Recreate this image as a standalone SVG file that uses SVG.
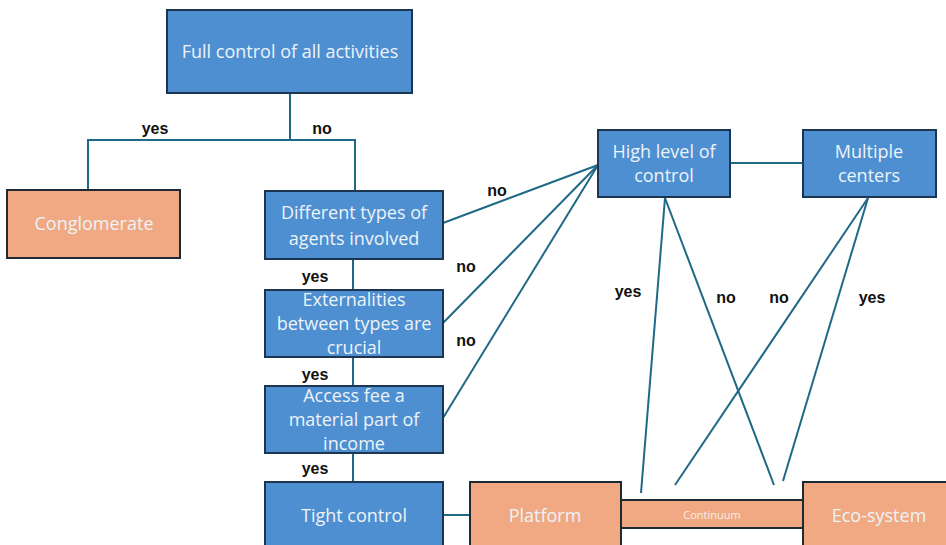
<svg xmlns="http://www.w3.org/2000/svg" width="946" height="545" viewBox="0 0 946 545">
  <style>
    .blue { fill: #4d8fd1; stroke: #1c3550; stroke-width: 2; }
    .orange { fill: #f0a982; stroke: #1e2a33; stroke-width: 2; }
    .txt { font-family: "Open Sans", "Noto Sans", sans-serif; font-size: 18px; fill: #eef3f8; text-anchor: middle; }
    .small { font-family: "Open Sans", "Noto Sans", sans-serif; font-size: 11px; fill: #f7efe8; text-anchor: middle; }
    .lbl { font-family: "Liberation Sans", Arial, sans-serif; font-size: 16px; font-weight: bold; fill: #111; text-anchor: middle; }
    .wire { fill: none; stroke: #1f6987; stroke-width: 2; }
  </style>
  <rect width="946" height="545" fill="#ffffff"/>

  <!-- connectors -->
  <g id="connectors">
    <polyline class="wire" points="290,93 290,140"/>
    <polyline class="wire" points="88,190 88,140 355,140 355,191"/>
    <line class="wire" x1="353" y1="259" x2="353" y2="290"/>
    <line class="wire" x1="353" y1="357" x2="353" y2="386"/>
    <line class="wire" x1="353" y1="453" x2="353" y2="482"/>
    <line class="wire" x1="443" y1="223" x2="598" y2="165"/>
    <line class="wire" x1="443" y1="323" x2="598" y2="165"/>
    <line class="wire" x1="443" y1="418" x2="598" y2="165"/>
    <line class="wire" x1="730" y1="163" x2="803" y2="163"/>
    <line class="wire" x1="665" y1="198" x2="641" y2="493"/>
    <line class="wire" x1="665" y1="198" x2="774" y2="485"/>
    <line class="wire" x1="868" y1="198" x2="675" y2="485"/>
    <line class="wire" x1="868" y1="198" x2="783" y2="481"/>
    <line class="wire" x1="443" y1="515" x2="470" y2="515"/>
  </g>

  <!-- branch labels -->
  <g id="labels">
    <text class="lbl" x="155" y="134">yes</text>
    <text class="lbl" x="322" y="134">no</text>
    <text class="lbl" x="315" y="282">yes</text>
    <text class="lbl" x="315" y="380">yes</text>
    <text class="lbl" x="315" y="474">yes</text>
    <text class="lbl" x="497" y="196">no</text>
    <text class="lbl" x="466" y="272">no</text>
    <text class="lbl" x="466" y="346">no</text>
    <text class="lbl" x="628" y="297">yes</text>
    <text class="lbl" x="726" y="303">no</text>
    <text class="lbl" x="779" y="303">no</text>
    <text class="lbl" x="872" y="303">yes</text>
  </g>

  <g id="full-control">
    <rect class="blue" x="167" y="10" width="245" height="83"/>
    <text class="txt" x="290" y="58">Full control of all activities</text>
  </g>

  <g id="conglomerate">
    <rect class="orange" x="7" y="190" width="173" height="68"/>
    <text class="txt" x="94" y="230">Conglomerate</text>
  </g>

  <g id="different-types">
    <rect class="blue" x="265" y="191" width="178" height="68"/>
    <text class="txt" x="354" y="219">Different types of</text>
    <text class="txt" x="354" y="245">agents involved</text>
  </g>

  <g id="externalities">
    <rect class="blue" x="265" y="290" width="178" height="67"/>
    <text class="txt" x="354" y="306">Externalities</text>
    <text class="txt" x="354" y="330">between types are</text>
    <text class="txt" x="354" y="354">crucial</text>
  </g>

  <g id="access-fee">
    <rect class="blue" x="265" y="386" width="178" height="67"/>
    <text class="txt" x="354" y="402">Access fee a</text>
    <text class="txt" x="354" y="426">material part of</text>
    <text class="txt" x="354" y="450">income</text>
  </g>

  <g id="tight-control">
    <rect class="blue" x="265" y="482" width="178" height="70"/>
    <text class="txt" x="354" y="522">Tight control</text>
  </g>

  <g id="high-control">
    <rect class="blue" x="598" y="130" width="132" height="67"/>
    <text class="txt" x="664" y="158">High level of</text>
    <text class="txt" x="664" y="182">control</text>
  </g>

  <g id="multiple-centers">
    <rect class="blue" x="803" y="130" width="133" height="67"/>
    <text class="txt" x="869" y="158">Multiple</text>
    <text class="txt" x="869" y="182">centers</text>
  </g>

  <g id="continuum">
    <rect class="orange" x="621" y="500" width="182" height="28"/>
    <text class="small" x="712" y="519">Continuum</text>
  </g>

  <g id="platform">
    <rect class="orange" x="470" y="482" width="151" height="70"/>
    <text class="txt" x="545" y="522">Platform</text>
  </g>

  <g id="eco-system">
    <rect class="orange" x="803" y="482" width="150" height="70"/>
    <text class="txt" x="879" y="522">Eco-system</text>
  </g>
</svg>
